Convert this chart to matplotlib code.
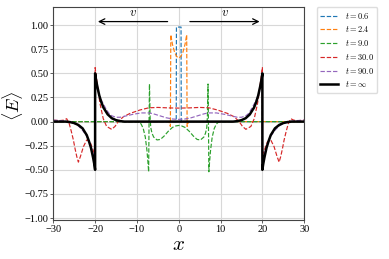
import matplotlib
matplotlib.use("Agg")
import matplotlib.pyplot as plt

plt.rcParams['font.family'] = ['Liberation Serif', 'DejaVu Serif']
plt.rcParams['mathtext.fontset'] = 'cm'

# t = 0.6
x_06 = [-30, -0.7, -0.6, -0.55, 0.55, 0.6, 0.7, 30]
y_06 = [0, 0, 0, 0.98, 0.98, 0, 0, 0]

# t = 2.4
x_24 = [-30, -2.6, -2.3, -2.1, -2.0, -1.9, -1.5, -1.0, -0.5, 0, 0.5, 1.0, 1.5, 1.9, 2.0, 2.1, 2.3, 2.6, 30]
y_24 = [0, 0, -0.005, -0.03, -0.05, 0.9, 0.8, 0.72, 0.675, 0.66, 0.675, 0.72, 0.8, 0.9, -0.05, -0.03, -0.005, 0, 0]

# t = 9.0
x_9 = [-30, -10, -9.5, -9, -8.5, -8, -7.6, -7.35, -7.2, -7.1, -7.0, -6.85, -6.7, -6.4, -6, -5.2, -4.4, -3.5,
       -2.5, -1.5, -0.7, 0, 0.7, 1.5, 2.5, 3.5, 4.4, 5.2, 6, 6.4, 6.7, 6.85, 7.0, 7.1, 7.2, 7.35, 7.6, 8, 8.5,
       9, 9.5, 10, 30]
y_9 = [0, 0, -0.005, -0.025, -0.07, -0.16, -0.3, -0.43, -0.52, 0.0, 0.39, 0.05, -0.06, -0.12, -0.16, -0.19,
       -0.185, -0.15, -0.1, -0.06, -0.045, -0.04, -0.045, -0.06, -0.1, -0.15, -0.185, -0.19, -0.16, -0.12,
       -0.06, 0.05, 0.39, 0.0, -0.52, -0.43, -0.3, -0.16, -0.07, -0.025, -0.005, 0, 0]

# t = 30.0
x_30 = [-30, -28.5, -27.5, -26.8, -26.2, -25.7, -25.2, -24.8, -24.4, -24.0, -23.5, -22.8, -22.0, -21.2, -20.6,
        -20.02, -20.0, -19.4, -18.85, -18.05, -17.25, -16.05, -15.25, -14.45, -13.25, -11.65, -9.3, -7.2, -5,
        -2.4, 0, 2.4, 5, 7.2, 9.3, 11.65, 13.25, 14.45, 15.25, 16.05, 17.25, 18.05, 18.85, 19.4, 20.0, 20.02,
        20.6, 21.2, 22.0, 22.8, 23.5, 24.0, 24.4, 24.8, 25.2, 25.7, 26.2, 26.8, 27.5, 28.5, 30]
y_30 = [0.015, 0.01, 0.015, 0.03, -0.02, -0.1, -0.19, -0.28, -0.36, -0.42, -0.36, -0.26, -0.19, -0.21, -0.28,
        -0.35, 0.56, 0.36, 0.19, 0.03, -0.05, -0.08, -0.05, 0.0, 0.05, 0.085, 0.12, 0.143, 0.147, 0.142, 0.14,
        0.142, 0.147, 0.143, 0.12, 0.085, 0.05, 0.0, -0.05, -0.08, -0.05, 0.03, 0.19, 0.36, 0.56, -0.35,
        -0.28, -0.21, -0.19, -0.26, -0.36, -0.42, -0.36, -0.28, -0.19, -0.1, -0.02, 0.03, 0.015, 0.01, 0.015]

# t = 90.0
x_90 = [-30, -28, -26.5, -25, -24, -23, -22, -21.5, -21, -20.5, -20.02, -20.0, -19.5, -19, -18.5, -18, -17.5,
        -17, -16.5, -16, -15, -14, -13, -11, -9, -7, -6, -4.5, -3, -1.5, 0, 1.5, 3, 4.5, 6, 7, 9, 11, 13, 14,
        15, 16, 16.5, 17, 17.5, 18, 18.5, 19, 19.5, 20.0, 20.02, 20.5, 21, 21.5, 22, 23, 24, 25, 26.5, 28, 30]
y_90 = [0.015, 0.01, 0.0, -0.02, -0.045, -0.09, -0.15, -0.2, -0.26, -0.33, -0.4, 0.45, 0.34, 0.27, 0.22, 0.18,
        0.14, 0.105, 0.075, 0.06, 0.045, 0.045, 0.055, 0.075, 0.09, 0.09, 0.08, 0.06, 0.04, 0.027, 0.023,
        0.027, 0.04, 0.06, 0.08, 0.09, 0.09, 0.075, 0.055, 0.045, 0.045, 0.06, 0.075, 0.105, 0.14, 0.18, 0.22,
        0.27, 0.34, 0.45, -0.4, -0.33, -0.26, -0.2, -0.15, -0.09, -0.045, -0.02, 0.0, 0.01, 0.015]

# t = infinity
x_inf = [-30, -27, -26, -25, -24, -23, -22, -21.5, -21, -20.5, -20.2, -20.0, -20.0, -19.8, -19.5, -19, -18.5,
         -18, -17, -16, -15, -14, -13, 13, 14, 15, 16, 17, 18, 18.5, 19, 19.5, 19.8, 20.0, 20.0, 20.2, 20.5,
         21, 21.5, 22, 23, 24, 25, 26, 27, 30]
y_inf = [0, 0, -0.005, -0.015, -0.035, -0.07, -0.14, -0.2, -0.27, -0.37, -0.44, -0.5, 0.5, 0.44, 0.37, 0.27,
         0.2, 0.145, 0.075, 0.035, 0.015, 0.005, 0, 0, 0.005, 0.015, 0.035, 0.075, 0.145, 0.2, 0.27, 0.37,
         0.44, 0.5, -0.5, -0.44, -0.37, -0.27, -0.2, -0.14, -0.07, -0.035, -0.015, -0.005, 0, 0]

series = [
    (x_06, y_06, r'$t=0.6$', '#1f77b4'),
    (x_24, y_24, r'$t=2.4$', '#ff7f0e'),
    (x_9, y_9, r'$t=9.0$', '#2ca02c'),
    (x_30, y_30, r'$t=30.0$', '#d62728'),
    (x_90, y_90, r'$t=90.0$', '#9467bd'),
]

xticks = [-30, -20, -10, 0, 10, 20, 30]
yticks = [-1.0, -0.75, -0.5, -0.25, 0.0, 0.25, 0.5, 0.75, 1.0]

fig = plt.figure(figsize=(3.89, 2.59), dpi=100)
ax = fig.add_axes([0.137, 0.1506, 0.645, 0.8212])

for xs, ys, lab, col in series:
    ax.plot(xs, ys, '--', color=col, lw=0.85, label=lab)
ax.plot(x_inf, y_inf, '-', color='black', lw=1.8, label=r'$t=\infty$')

ax.set_xlim(-30, 30)
ax.set_ylim(-1.02, 1.185)
ax.set_xticks(xticks)
ax.set_yticks(yticks)
ax.set_yticklabels(['%.2f' % v if v >= 0 else '\u2212%.2f' % (-v) for v in yticks])
ax.grid(True, color='#d8d8d8', lw=0.8)
ax.set_axisbelow(True)
ax.tick_params(labelsize=7.5, length=2, width=0.6, pad=1.5, color='#444444')
for s in ax.spines.values():
    s.set_color('#444444')
    s.set_linewidth(0.8)

ax.set_xlabel(r'$x$', fontsize=15)
ax.xaxis.set_label_coords(0.5, -0.075)
ax.xaxis.label.set_va('top')
ax.set_ylabel(r'$\langle E\rangle$', fontsize=13)
ax.yaxis.set_label_coords(-0.112, 0.535)

# velocity arrows
ax.annotate('', xy=(-20, 1.037), xytext=(-2, 1.037),
            arrowprops=dict(arrowstyle='->', color='black', lw=0.9))
ax.annotate('', xy=(20, 1.037), xytext=(2, 1.037),
            arrowprops=dict(arrowstyle='->', color='black', lw=0.9))
ax.text(-11, 1.095, r'$v$', fontsize=9, ha='center', va='baseline')
ax.text(11, 1.095, r'$v$', fontsize=9, ha='center', va='baseline')

ax.legend(loc='upper left', bbox_to_anchor=(1.05, 1.0), fontsize=6.0, handlelength=2.2,
          labelspacing=0.45, borderaxespad=0, framealpha=1, edgecolor='#dddddd')

fig.savefig('out.png', dpi=100)
